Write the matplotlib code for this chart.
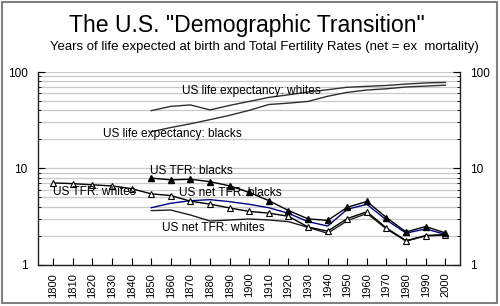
import numpy as np
import matplotlib
matplotlib.use('Agg')
import matplotlib.pyplot as plt
from matplotlib.patches import Rectangle

plt.rcParams['font.family'] = ['Liberation Sans', 'DejaVu Sans']

years = list(range(1800, 2010, 10))
years_b = list(range(1850, 2010, 10))

# life expectancy at birth (years)
le_whites = [39.7, 44.0, 45.5, 40.4, 45.0, 49.5, 54.5, 58.0, 62.0, 65.5, 69.5, 71.0, 72.5, 75.0, 77.0, 78.0]
le_blacks = [24.0, 26.5, 29.0, 32.0, 35.5, 40.0, 46.0, 47.5, 49.5, 56.0, 61.5, 65.0, 67.0, 70.0, 71.5, 73.0]

# total fertility rates
tfr_whites = [7.04, 6.92, 6.73, 6.55, 6.14, 5.42, 5.21, 4.55, 4.24, 3.87, 3.56,
              3.42, 3.17, 2.45, 2.22, 3.00, 3.53, 2.39, 1.77, 2.00, 2.05]
tfr_blacks = [7.90, 7.58, 7.69, 7.26, 6.56, 5.61, 4.61, 3.64, 2.98, 2.87,
              3.93, 4.52, 3.07, 2.18, 2.48, 2.13]
net_blacks = [3.89, 4.33, 4.60, 4.72, 4.50, 4.22, 3.89, 3.40, 2.79, 2.51,
              3.75, 4.22, 2.90, 2.12, 2.34, 2.06]
net_whites = [3.63, 3.68, 3.27, 2.83, 2.90, 2.97, 2.90, 2.79, 2.43, 2.11,
              2.85, 3.40, 2.34, 1.75, 1.98, 2.02]

fig = plt.figure(figsize=(5.0, 3.06), dpi=100)
ax = fig.add_axes([0.075, 0.1356, 0.845, 0.629])

ax.plot(years_b, le_whites, color='#303030', lw=1.0)
ax.plot(years_b, le_blacks, color='#303030', lw=1.0)
ax.plot(years_b, net_whites, color='#202020', lw=1.0)
ax.plot(years_b, net_blacks, color='#000080', lw=1.0)
ax.plot(years, tfr_whites, color='black', lw=1.0, marker='^', ms=5,
        mfc='white', mec='black', mew=0.8)
ax.plot(years_b, tfr_blacks, color='black', lw=1.0, marker='^', ms=5,
        mfc='black', mec='black')

ax.set_yscale('log')
ax.set_ylim(1, 100)
ax.set_xlim(1792, 2007.5)
ax.set_xticks(years)
ax.set_xticklabels([str(y) for y in years], rotation=90, fontsize=8)
ax.set_yticks([1, 10, 100])
ax.set_yticklabels(['1', '10', '100'])
ax.yaxis.set_minor_formatter(matplotlib.ticker.NullFormatter())

ax.grid(True, which='both', axis='y', color='#c8c8c8', lw=0.9)
ax.set_axisbelow(True)
ax.spines['top'].set_visible(False)
for s in ['left', 'right', 'bottom']:
    ax.spines[s].set_color('#202020')
    ax.spines[s].set_linewidth(1.0)

ax.tick_params(axis='y', which='both', direction='in', left=True, right=True,
               labelleft=True, labelright=True, labelsize=8.5, pad=7)
ax.tick_params(axis='y', which='major', length=5)
ax.tick_params(axis='y', which='minor', length=2.5)
ax.tick_params(axis='x', direction='in', length=5, pad=6, top=False)

fs = 8.6
ax.text(1865.7, 64.1, 'US life expectancy: whites', fontsize=fs, va='center')
ax.text(1825.4, 22.7, 'US life expectancy: blacks', fontsize=fs, va='center')
ax.text(1849.3, 9.38, 'US TFR: blacks', fontsize=fs, va='center')
ax.text(1799.8, 5.71, 'US TFR: whites', fontsize=fs, va='center')
ax.text(1864.1, 5.50, 'US net TFR: blacks', fontsize=fs, va='center')
ax.text(1855.5, 2.38, 'US net TFR: whites', fontsize=fs, va='center')

fig.text(0.494, 0.897, 'The U.S. "Demographic Transition"', fontsize=16.6,
         ha='center', va='baseline')
fig.text(0.528, 0.845,
         'Years of life expected at birth and Total Fertility Rates (net = ex  mortality)',
         fontsize=9.5, ha='center', va='center')

fig.add_artist(Rectangle((0.004, 0.01), 0.99, 0.982, transform=fig.transFigure,
                         fill=False, edgecolor='#808080', lw=1.5))

plt.savefig('out.png', dpi=100)
